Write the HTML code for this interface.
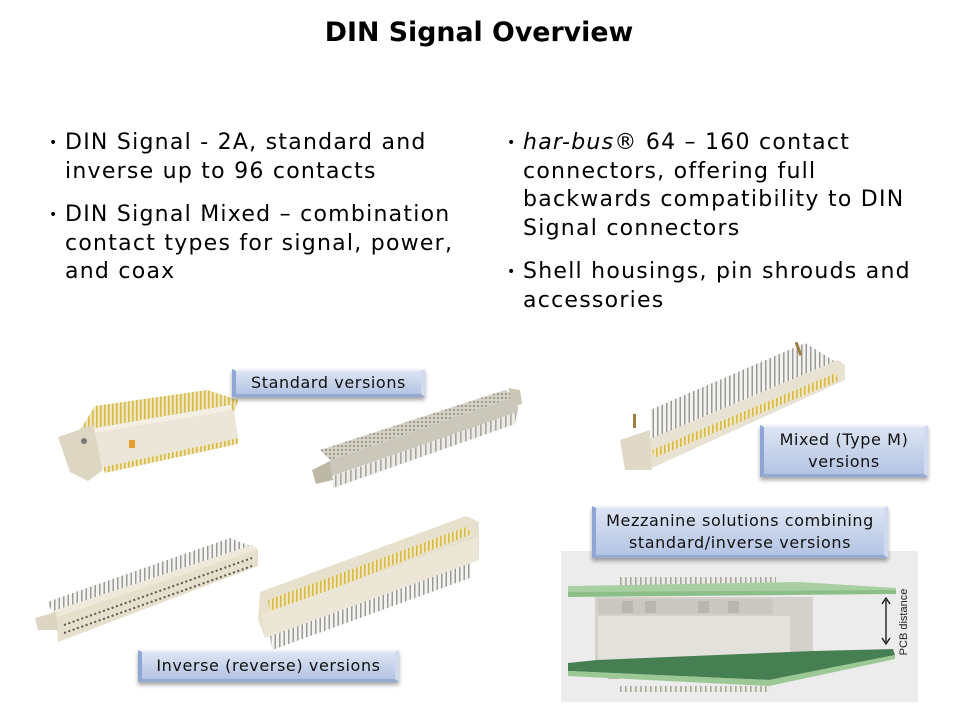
<!DOCTYPE html>
<html><head><meta charset="utf-8">
<style>
html,body{margin:0;padding:0;background:#fff;}
body{width:960px;height:720px;position:relative;overflow:hidden;font-family:"DejaVu Sans","Liberation Sans",sans-serif;color:#000;}
.title{position:absolute;left:0;width:958px;top:16px;text-align:center;font-weight:bold;font-size:26.8px;line-height:34px;}
.col{position:absolute;top:129px;font-size:22px;line-height:28.5px;letter-spacing:1.25px;white-space:nowrap;}
.col p{margin:0 0 15px 0;position:relative;}
.col p:before{content:"•";position:absolute;left:-16px;top:0;font-size:14px;letter-spacing:0;}
.lbl{position:absolute;box-sizing:border-box;text-align:center;font-size:16px;letter-spacing:0.6px;line-height:21.5px;color:#111;white-space:nowrap;
 background:linear-gradient(#dde5f4,#c6d2ea 55%,#b3c4e4);
 border-top:2px solid #eef2fa;border-left:4px solid #8ea5d5;border-right:4px solid #d0daef;border-bottom:3px solid #97aad2;
 box-shadow:0 3px 4px rgba(0,0,0,0.35);}
svg{position:absolute;left:0;top:0;}
</style></head><body>
<svg width="960" height="720" viewBox="0 0 960 720">
<defs>
<pattern id="gold" width="4" height="8" patternUnits="userSpaceOnUse"><rect width="4" height="8" fill="#efe6bf"/><rect width="1.6" height="8" fill="#d7bb4a"/></pattern>
<pattern id="gray" width="4.5" height="8" patternUnits="userSpaceOnUse"><rect width="4.5" height="8" fill="#f4f3f0"/><rect width="1.5" height="8" fill="#9a9a98"/></pattern>
<pattern id="gray2" width="5" height="8" patternUnits="userSpaceOnUse"><rect width="5" height="8" fill="#eceae4"/><rect width="1.6" height="8" fill="#a8a6a0"/></pattern>
<pattern id="holes" width="4" height="4" patternUnits="userSpaceOnUse"><rect width="4" height="4" fill="#d4d0c3"/><circle cx="2" cy="2" r="1" fill="#8e8a7e"/></pattern>
</defs>

<!-- Connector 1 : standard angled -->
<polygon points="80,430 95,406 207,390 238,400 234,414 108,434" fill="url(#gold)"/>
<polygon points="95,428 230,405 232,411 93,433" fill="#f3efe5"/>
<polygon points="93,433 234,410 238,438 103,467" fill="#ebe6d8"/>
<polygon points="103,467 238,438 238,444 105,473" fill="url(#gold)"/>
<polygon points="58,437 93,425 103,470 88,481 70,472" fill="#ddd6c3"/>
<circle cx="84" cy="441" r="3" fill="#777"/>
<rect x="129" y="440" width="6" height="8" fill="#e3a02a"/>

<!-- Connector 2 : standard female -->
<polygon points="320,450 505,390 517,396 330,460" fill="url(#holes)"/>
<polygon points="330,460 517,396 518,412 332,476" fill="#cbc7ba"/>
<polygon points="333,476 517,412 515,424 333,488" fill="url(#gray2)"/>
<polygon points="312,470 330,461 333,480 316,484" fill="#bdb8a6"/>
<polygon points="508,388 520,390 522,404 515,406" fill="#cbc6b6"/>

<!-- Connector 3 : inverse female -->
<polygon points="47,602 230,538 253,547 53,613" fill="url(#gray)"/>
<polygon points="50,612 252,545 258,549 56,617" fill="#efe9dc"/>
<polygon points="56,617 258,549 258,566 58,642" fill="#e6dfcc"/>
<line x1="64" y1="625" x2="252" y2="558" stroke="#5a574f" stroke-width="2" stroke-dasharray="2 2.6"/>
<line x1="64" y1="633" x2="252" y2="566" stroke="#5a574f" stroke-width="2" stroke-dasharray="2 2.6"/>
<polygon points="35,618 56,612 58,630 38,630" fill="#ddd5c2"/>

<!-- Connector 4 : inverse male -->
<polygon points="270,636 470,562 470,578 272,650" fill="url(#gray)"/>
<polygon points="260,592 466,516 479,522 479,560 265,638 258,620" fill="#e7e0cc"/>
<polygon points="268,600 466,527 472,534 270,614" fill="url(#gold)"/>
<polygon points="262,614 478,537 479,560 265,638" fill="#ece6d6"/>

<!-- Connector 5 : mixed -->
<polygon points="650,410 805,343 836,362 652,440" fill="url(#gray)"/>
<polygon points="648,440 838,360 845,365 845,380 652,468" fill="#e8e2d2"/>
<polygon points="652,450 836,373 838,381 654,458" fill="url(#gold)"/>
<polygon points="620,440 650,430 652,470 625,470" fill="#e0d9c7"/>
<rect x="633" y="414" width="3" height="14" fill="#9c7f43"/>
<rect x="797" y="342" width="3" height="14" fill="#9c7f43" transform="rotate(-20 798 349)"/>

<!-- Mezzanine -->
<rect x="561" y="551" width="357" height="151" fill="#ececec"/>
<rect x="620" y="577" width="156" height="11" fill="url(#gray2)"/>
<polygon points="568,586 800,582 896,588 896,593 568,596" fill="#a8cfa2"/>
<polygon points="568,592 896,590 896,594 568,597" fill="#8cbf88"/>
<rect x="595" y="597" width="218" height="78" fill="#d3d1ca"/>
<rect x="598" y="599" width="175" height="15" fill="#c9c7bf"/>
<rect x="598" y="616" width="192" height="44" fill="#e3e1dc"/>
<g fill="#b9b6ae">
<rect x="608" y="663" width="11" height="16"/><rect x="630" y="663" width="11" height="16"/><rect x="652" y="663" width="11" height="16"/>
<rect x="674" y="663" width="11" height="16"/><rect x="697" y="663" width="11" height="16"/><rect x="720" y="663" width="11" height="16"/>
<rect x="622" y="601" width="11" height="12"/><rect x="645" y="601" width="11" height="12"/><rect x="698" y="601" width="11" height="12"/><rect x="728" y="601" width="11" height="12"/>
</g>
<polygon points="568,663 597,660 813,651 893,649 895,655 769,680 568,671" fill="#467f52"/>
<polygon points="568,671 769,680 895,655 895,659 769,686 568,676" fill="#9cc896"/>
<rect x="620" y="686" width="150" height="6" fill="url(#gray2)"/>
<line x1="886" y1="600" x2="886" y2="642" stroke="#111" stroke-width="1.3"/>
<polyline points="882,604 886,598 890,604" fill="none" stroke="#111" stroke-width="1.3"/>
<polyline points="882,638 886,644 890,638" fill="none" stroke="#111" stroke-width="1.3"/>
<text x="0" y="0" transform="translate(907,622) rotate(-90)" text-anchor="middle" font-family="Liberation Sans, sans-serif" font-size="11" fill="#222">PCB distance</text>
</svg>

<div class="title">DIN Signal Overview</div>

<div class="col" style="left:65px;">
<p>DIN Signal - 2A, standard and<br>inverse up to 96 contacts</p>
<p>DIN Signal Mixed – combination<br>contact types for signal, power,<br>and coax</p>
</div>
<div class="col" style="left:523px;">
<p><i>har-bus</i>® 64 – 160 contact<br>connectors, offering full<br>backwards compatibility to DIN<br>Signal connectors</p>
<p>Shell housings, pin shrouds and<br>accessories</p>
</div>

<div class="lbl" style="left:232px;top:369px;width:193px;height:28px;line-height:23px;">Standard versions</div>
<div class="lbl" style="left:138px;top:650px;width:261px;height:32px;line-height:27px;">Inverse (reverse) versions</div>
<div class="lbl" style="left:760px;top:425px;width:168px;height:52px;padding-top:2px;">Mixed (Type M)<br>versions</div>
<div class="lbl" style="left:592px;top:506px;width:296px;height:52px;padding-top:2px;">Mezzanine solutions combining<br>standard/inverse versions</div>
</body></html>
